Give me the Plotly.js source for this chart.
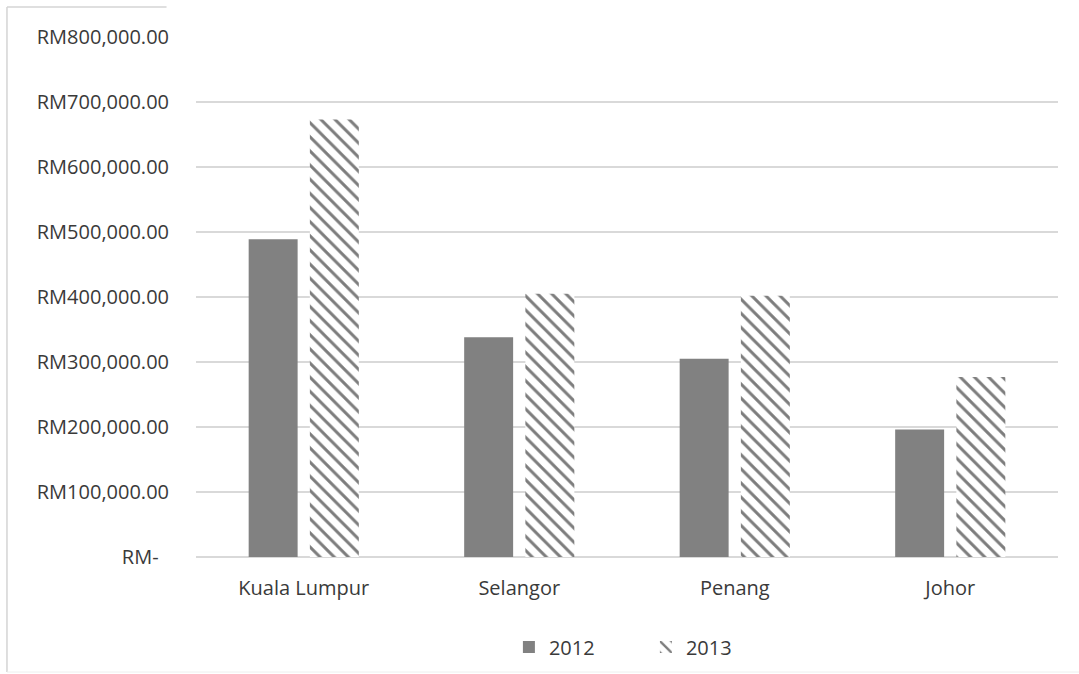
<!DOCTYPE html>
<html>
<head>
<meta charset="utf-8">
<script src="https://cdn.plot.ly/plotly-3.0.1.min.js"></script>
<style>html,body{margin:0;padding:0;background:#fff;}#chart{width:1079px;height:674px;}</style>
</head>
<body>
<div id="chart"></div>
<script>
const categories = ["Kuala Lumpur", "Selangor", "Penang", "Johor"];
const values2012 = [489000, 338000, 305000, 196000];
const values2013 = [673000, 405000, 402000, 277000];
const tickValues = [0, 100000, 200000, 300000, 400000, 500000, 600000, 700000, 800000];
const tickLabels = ["RM-\u00a0\u00a0", "RM100,000.00", "RM200,000.00", "RM300,000.00", "RM400,000.00",
                    "RM500,000.00", "RM600,000.00", "RM700,000.00", "RM800,000.00"];
const seriesNames = ["2012", "2013"];

const fontFam = "Open Sans, sans-serif";
const textColor = "#3a3a3a";
const data = [
  {type: "bar", name: seriesNames[0], x: categories, y: values2012,
   marker: {color: "#818181", line: {width: 0}}},
  {type: "bar", name: seriesNames[1], x: categories, y: values2013,
   marker: {color: "#ffffff", line: {width: 0},
            pattern: {shape: "\\", fgcolor: "#7d7d7d", bgcolor: "#ffffff", size: 10, solidity: 0.3}}}
];

const layout = {
  width: 1079, height: 674,
  margin: {l: 196, r: 21, t: 37, b: 117},
  paper_bgcolor: "#ffffff", plot_bgcolor: "#ffffff",
  font: {family: fontFam, size: 20, color: textColor},
  barmode: "group", bargap: 0.432, bargroupgap: 0.2,
  showlegend: true,
  legend: {orientation: "h", xref: "paper", x: 0.363, xanchor: "left",
           yref: "container", y: 0.04, yanchor: "middle", entrywidth: 92,
           font: {family: fontFam, size: 20, color: textColor}, itemwidth: 30, traceorder: "normal"},
  xaxis: {type: "category", showgrid: false, showline: false, zeroline: false, ticks: "",
          ticklabelstandoff: 17, tickfont: {family: fontFam, size: 20, color: textColor}},
  yaxis: {range: [0, 800000], tickmode: "array", tickvals: tickValues, ticktext: tickLabels,
          showgrid: true, gridcolor: "#d9d9d9", gridwidth: 1.5, zeroline: true, zerolinecolor: "#d9d9d9",
          zerolinewidth: 1.5, showline: false, ticks: "", ticklabelstandoff: 26,
          tickfont: {family: fontFam, size: 20, color: textColor}},
  shapes: [
    {type: "line", xref: "paper", yref: "y domain", x0: 0, x1: 1, y0: 1, y1: 1,
     line: {color: "#ffffff", width: 3}, layer: "above"},
    {type: "line", xref: "paper", yref: "paper", x0: -0.2193, x1: -0.2193, y0: -0.2212, y1: 1.0577,
     line: {color: "#d4d4d4", width: 1.5}},
    {type: "line", xref: "paper", yref: "paper", x0: -0.2193, x1: -0.0342, y0: 1.0577, y1: 1.0577,
     line: {color: "#d4d4d4", width: 1.5}},
    {type: "line", xref: "paper", yref: "paper", x0: -0.2193, x1: 1.03, y0: -0.2212, y1: -0.2212,
     line: {color: "#eeeeee", width: 1}}
  ]
};

Plotly.newPlot("chart", data, layout, {displayModeBar: false, staticPlot: true});
</script>
</body>
</html>
